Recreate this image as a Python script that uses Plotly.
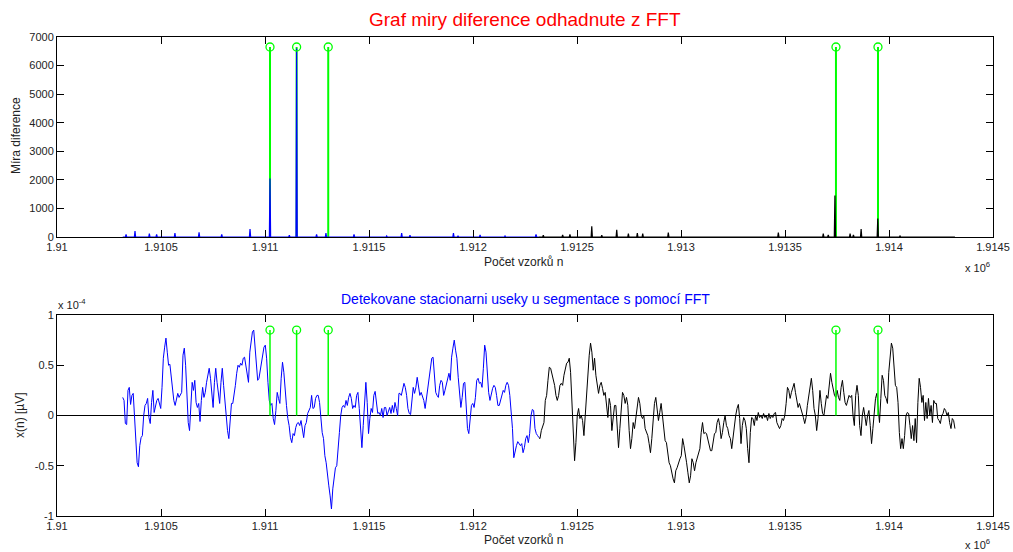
import numpy as np
import plotly.graph_objects as go

W, H = 1013, 552
BASE = 1910000

# ---------------- data ----------------
x_ticks = [1910000 + 500 * i for i in range(10)]
x_tick_labels = ["1.91", "1.9105", "1.911", "1.9115", "1.912", "1.9125",
                 "1.913", "1.9135", "1.914", "1.9145"]
top_y_ticks = [0, 1000, 2000, 3000, 4000, 5000, 6000, 7000]
bot_y_ticks = [-1, -0.5, 0, 0.5, 1]
bot_y_labels = ["-1", "-0.5", "0", "0.5", "1"]

# detected segment borders (sample index) and stem heights
boundaries = [1911024, 1911152, 1911304, 1913745, 1913947]
stem_top = 6650
stem_bot = 0.85

# difference measure spikes (sample offset from 1.91e6, value)
spike_pos_blue = [332, 375, 444, 479, 567, 683, 792, 928, 1024, 1117, 1152, 1248,
                  1293, 1428, 1585, 1657, 1697, 1906, 1928, 2034, 2154, 2303]
spike_val_blue = [95, 210, 120, 95, 140, 165, 95, 280, 2050, 60, 6600, 90,
                  140, 95, 35, 140, 60, 140, 45, 70, 35, 95]
spike_pos_black = [2338, 2431, 2466, 2571, 2619, 2691, 2747, 2790, 2816, 2939,
                   3468, 3684, 3708, 3740, 3813, 3829, 3866, 3946, 4053]
spike_val_black = [60, 70, 95, 375, 60, 255, 115, 140, 120, 150,
                   150, 120, 70, 1450, 120, 70, 275, 650, 35]
signal_start = 316
split_pos = 2315
signal_end = 4317

# signal x(n) in units of 1e-4, read in six consecutive pieces
seg_start = [316, 976, 1649, 2322, 2995, 3668]
seg_end = [971, 1644, 2317, 2994, 3665, 4317]
seg1 = [0.18,0.15,-0.08,-0.09,0.25,0.28,0.11,0.2,0.22,0.0,-0.23,-0.47,-0.51,-0.3,-0.22,-0.2,0.0,0.1,0.12,0.17,-0.02,-0.08,0.13,0.25,0.03,0.1,0.15,0.17,0.1,0.07,0.28,0.57,0.68,0.77,0.63,0.5,0.51,0.4,0.25,0.15,0.1,0.18,0.22,0.18,0.2,0.23,0.6,0.67,0.5,0.23,-0.07,-0.15,0.12,0.33,0.25,0.35,0.13,0.08,0.12,-0.06,0.15,0.28,0.18,0.23,0.33,0.4,0.47,0.37,0.18,0.08,0.33,0.47,0.33,0.23,0.12,0.33,0.47,0.3,0.12,0.0,-0.15,-0.23,-0.03,0.12,0.12,0.2,0.3,0.42,0.5,0.48,0.52,0.5,0.57,0.58,0.5,0.4,0.33,0.63,0.77,0.83,0.85,0.68,0.5,0.35,0.37]
seg2 = [0.43,0.53,0.57,0.68,0.7,0.57,0.33,0.15,0.1,0.12,-0.03,-0.09,0.05,0.23,0.17,0.12,0.37,0.53,0.43,0.23,0.1,-0.03,-0.1,-0.22,-0.27,-0.18,-0.2,-0.12,-0.08,-0.07,-0.1,-0.05,-0.15,-0.22,-0.1,-0.07,0.02,0.05,0.08,0.2,0.07,0.08,0.17,0.2,0.2,0.13,-0.07,-0.17,-0.23,-0.4,-0.47,-0.63,-0.7,-0.8,-0.93,-0.73,-0.6,-0.52,-0.5,-0.37,-0.17,0.0,0.08,0.1,0.08,0.15,0.1,0.18,0.22,0.17,0.07,0.1,0.08,0.2,0.23,0.07,-0.13,-0.32,-0.1,0.17,0.33,0.13,-0.18,-0.03,0.07,0.03,0.2,0.24,0.1,0.02,0.03,0.0,0.07,-0.02,0.08,0.08,0.0,0.05,0.08,0.02,0.1,0.03,0.13,0.07,0.0,0.22]
seg3 = [0.22,0.2,0.25,0.32,0.28,0.2,0.07,0.02,0.01,0.13,0.28,0.22,0.28,0.38,0.28,0.2,0.23,0.18,0.15,0.07,0.18,0.27,0.37,0.48,0.57,0.58,0.4,0.23,0.2,0.18,0.3,0.35,0.33,0.2,0.25,0.32,0.38,0.42,0.35,0.58,0.67,0.75,0.65,0.57,0.38,0.23,0.08,0.18,0.32,0.33,0.1,-0.13,-0.18,-0.02,0.1,0.12,0.08,0.18,0.35,0.37,0.32,0.33,0.28,0.47,0.7,0.63,0.42,0.23,0.15,0.23,0.27,0.3,0.28,0.2,0.1,0.1,0.15,0.2,0.25,0.23,0.3,0.33,0.3,0.2,0.03,-0.13,-0.42,-0.35,-0.3,-0.26,-0.28,-0.3,-0.28,-0.37,-0.32,-0.23,-0.2,-0.27,-0.18,0.0,0.06,0.05,-0.13,-0.18,-0.2,-0.22]
seg4 = [-0.23,-0.15,-0.1,-0.07,0.15,0.2,0.35,0.48,0.47,0.42,0.37,0.3,0.2,0.15,0.2,0.3,0.32,0.3,0.4,0.48,0.52,0.53,0.57,0.43,0.13,-0.23,-0.45,-0.27,0.0,0.07,-0.03,0.0,-0.05,-0.2,0.03,0.27,0.42,0.6,0.72,0.63,0.45,0.57,0.4,0.28,0.22,0.3,0.33,0.27,0.2,0.23,0.1,-0.02,0.17,0.1,-0.15,-0.03,0.1,0.1,-0.07,-0.32,-0.13,0.08,0.23,0.2,0.12,0.18,0.1,-0.15,-0.33,-0.23,-0.07,-0.13,-0.03,0.1,0.18,0.12,0.0,-0.03,0.0,-0.13,-0.17,-0.2,-0.28,-0.37,-0.23,0.0,0.12,0.18,0.03,-0.05,0.03,0.12,0.0,-0.17,-0.25,-0.27,-0.4,-0.47,-0.5,-0.57,-0.63,-0.67,-0.55,-0.52,-0.47,-0.43]
seg5 = [-0.43,-0.4,-0.23,-0.3,-0.37,-0.47,-0.57,-0.67,-0.6,-0.43,-0.47,-0.55,-0.47,-0.43,-0.38,-0.33,-0.17,-0.07,-0.18,-0.17,-0.18,-0.25,-0.3,-0.35,-0.35,-0.27,-0.18,-0.17,-0.07,-0.03,-0.1,-0.23,-0.17,-0.07,0.0,-0.1,-0.13,-0.2,-0.23,-0.33,-0.2,-0.07,0.0,0.07,0.11,-0.03,-0.28,-0.1,-0.02,-0.05,-0.13,-0.33,-0.47,-0.17,-0.02,-0.03,-0.1,0.0,-0.05,0.03,-0.02,0.0,-0.03,0.02,-0.02,0.0,-0.05,0.02,-0.03,0.0,-0.02,0.02,0.03,-0.07,-0.1,-0.13,-0.1,-0.03,-0.05,0.0,0.12,0.28,0.25,0.17,0.23,0.28,0.32,0.23,0.13,0.08,0.12,0.08,0.02,-0.02,-0.08,-0.02,0.1,0.18,0.27,0.37,0.25,0.07,0.0,-0.15,-0.03,0.25]
seg6 = [0.25,0.12,0.02,0.0,0.1,0.2,0.17,0.28,0.42,0.33,0.25,0.2,0.18,0.25,0.18,0.15,0.28,0.35,0.23,0.13,0.1,0.15,0.2,0.18,0.2,0.0,-0.1,0.2,0.3,0.2,-0.1,-0.2,0.0,0.08,-0.03,-0.1,0.0,0.05,-0.1,-0.28,-0.13,0.03,0.17,0.22,0.07,-0.07,0.17,0.4,0.35,0.2,0.17,0.12,0.43,0.63,0.72,0.67,0.42,0.3,0.28,0.13,-0.17,-0.33,-0.23,-0.33,-0.2,0.0,0.03,0.02,-0.1,-0.23,-0.1,-0.25,-0.03,-0.27,0.13,0.37,0.28,0.13,0.2,-0.05,0.13,-0.03,0.17,0.0,0.1,-0.07,0.15,0.12,0.12,-0.03,-0.05,-0.08,0.0,0.02,0.07,0.05,0.0,0.03,-0.07,-0.13,-0.03,-0.05,-0.13]
segments = [seg1, seg2, seg3, seg4, seg5, seg6]

# ---------------- build series ----------------
def seg_xy(idx):
    vals = segments[idx]
    xs = np.linspace(seg_start[idx], seg_end[idx], len(vals)) + BASE
    return xs, np.array(vals)

bx, by, kx, ky = [], [], [], []
for i in range(3):
    a, b = seg_xy(i)
    bx.append(a); by.append(b)
for i in range(3, 6):
    a, b = seg_xy(i)
    kx.append(a); ky.append(b)
bx = np.concatenate(bx); by = np.concatenate(by)
kx = np.concatenate([[bx[-1]]] + kx); ky = np.concatenate([[by[-1]]] + ky)

def spike_line(pos, val, x0, x1):
    xs, ys = [x0 + BASE], [0]
    for p, v in zip(pos, val):
        xs += [p - 3 + BASE, p + BASE, p + 3 + BASE]
        ys += [0, v, 0]
    xs.append(x1 + BASE); ys.append(0)
    return xs, ys

tbx, tby = spike_line(spike_pos_blue, spike_val_blue, signal_start, split_pos)
tkx, tky = spike_line(spike_pos_black, spike_val_black, split_pos, signal_end)

def stems(h):
    xs, ys = [], []
    for b in boundaries:
        xs += [b, b, None]
        ys += [0, h, None]
    return xs, ys

GREEN = "#00ff00"
FONT = "Liberation Sans, Arial, sans-serif"

fig = go.Figure()
# top plot
sx, sy = stems(stem_top)
fig.add_trace(go.Scatter(x=sx, y=sy, mode="lines", line=dict(color=GREEN, width=2),
                         xaxis="x", yaxis="y", hoverinfo="skip"))
fig.add_trace(go.Scatter(x=tkx, y=tky, mode="lines", line=dict(color="black", width=1.2),
                         xaxis="x", yaxis="y"))
fig.add_trace(go.Scatter(x=tbx, y=tby, mode="lines", line=dict(color="#0000ff", width=1.2),
                         xaxis="x", yaxis="y"))
fig.add_trace(go.Scatter(x=boundaries, y=[stem_top] * len(boundaries), mode="markers",
                         marker=dict(symbol="circle-open", size=8, color=GREEN, line=dict(width=1.3)),
                         xaxis="x", yaxis="y"))

# bottom plot
fig.add_trace(go.Scatter(x=[x_ticks[0], x_ticks[-1]], y=[0, 0], mode="lines",
                         line=dict(color="black", width=1), xaxis="x2", yaxis="y2"))
fig.add_trace(go.Scatter(x=bx, y=by, mode="lines", line=dict(color="#0000ff", width=1),
                         xaxis="x2", yaxis="y2"))
fig.add_trace(go.Scatter(x=kx, y=ky, mode="lines", line=dict(color="black", width=1),
                         xaxis="x2", yaxis="y2"))
sx, sy = stems(stem_bot)
fig.add_trace(go.Scatter(x=sx, y=sy, mode="lines", line=dict(color=GREEN, width=1.5),
                         xaxis="x2", yaxis="y2"))
fig.add_trace(go.Scatter(x=boundaries, y=[stem_bot] * len(boundaries), mode="markers",
                         marker=dict(symbol="circle-open", size=8, color=GREEN, line=dict(width=1.3)),
                         xaxis="x2", yaxis="y2"))

def px(x):
    return x / W

def py(y):
    return 1 - y / H

xdom = [px(57), px(993)]
axis_common = dict(showline=True, linecolor="black", linewidth=1, mirror="ticks",
                   ticks="inside", ticklen=7, tickcolor="black", showgrid=False,
                   zeroline=False, automargin=False,
                   tickfont=dict(family=FONT, size=11, color="#222"))

fig.update_layout(
    width=W, height=H, autosize=False, showlegend=False,
    margin=dict(l=0, r=0, t=0, b=0, pad=0),
    paper_bgcolor="white", plot_bgcolor="white",
    xaxis=dict(domain=xdom, anchor="y", range=[x_ticks[0], x_ticks[-1]],
               tickvals=x_ticks, ticktext=x_tick_labels, **axis_common),
    yaxis=dict(domain=[py(237), py(37)], anchor="x", range=[0, 7000],
               tickvals=top_y_ticks, **axis_common),
    xaxis2=dict(domain=xdom, anchor="y2", range=[x_ticks[0], x_ticks[-1]],
                tickvals=x_ticks, ticktext=x_tick_labels, **axis_common),
    yaxis2=dict(domain=[py(516), py(315)], anchor="x2", range=[-1, 1],
                tickvals=bot_y_ticks, ticktext=bot_y_labels, **axis_common),
)

def ann(text, x, y, size=11, color="#222", angle=0, xanchor="center"):
    fig.add_annotation(text=text, x=px(x), y=py(y), xref="paper", yref="paper",
                       showarrow=False, textangle=angle, xanchor=xanchor, yanchor="middle",
                       font=dict(family=FONT, size=size, color=color))

ann("Graf miry diference odhadnute z FFT", 525, 19, size=19, color="#ff0000")
ann("Počet vzorků n", 523, 262, size=12)
ann("x 10<sup>6</sup>", 963, 267, size=11, xanchor="left")
ann("Míra diference", 16, 136, size=12, angle=-90)
ann("Detekovane stacionarni useky u segmentace s pomocí FFT", 525, 299, size=14, color="#0000ff")
ann("Počet vzorků n", 523, 540, size=12)
ann("x 10<sup>6</sup>", 963, 544, size=11, xanchor="left")
ann("x 10<sup>-4</sup>", 56, 304, size=11, xanchor="left")
ann("x(n) [µV]", 20, 415, size=12, angle=-90)

fig.write_html("out.html", config={"displayModeBar": False},
               post_script="document.body.style.margin='0';document.body.style.overflow='hidden';")
